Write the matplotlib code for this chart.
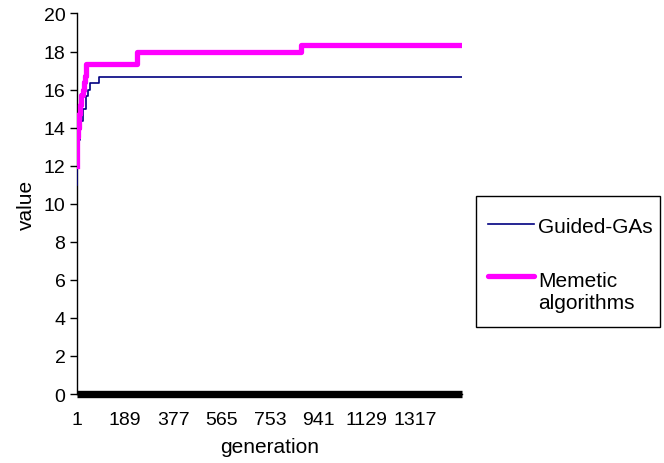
import numpy as np
import matplotlib.pyplot as plt
from matplotlib.patches import Rectangle
from matplotlib.lines import Line2D

plt.rcParams['font.family'] = ['Liberation Sans', 'DejaVu Sans']

# change points (generation, value)
guided_gen = [1, 4, 8, 14, 26, 36, 46, 52, 87, 1500]
guided_val = [11.0, 12.33, 13.33, 14.33, 15.0, 15.67, 16.0, 16.33, 16.67, 16.67]

memetic_gen = [1, 2, 4, 6, 10, 14, 20, 26, 30, 35, 39, 238, 873, 1500]
memetic_val = [12.0, 12.7, 13.5, 14.0, 14.7, 15.2, 15.7, 16.0, 16.4, 16.7, 17.33, 18.0, 18.33, 18.33]

zero_gen = [1, 1500]
zero_val = [0, 0]

xticks = [1, 189, 377, 565, 753, 941, 1129, 1317]
yticks = np.arange(0, 21, 2)

W, H = 664, 464
fig = plt.figure(figsize=(W / 100, H / 100), dpi=100)
ax = fig.add_axes([76.5 / W, 1 - 395 / H, (462 - 76.5) / W, (395 - 14.5) / H])

ax.plot(zero_gen, zero_val, color='black', lw=5.3, solid_capstyle='butt', zorder=2, clip_on=False)
ax.plot(guided_gen, guided_val, color='#000080', lw=1.2, drawstyle='steps-post', zorder=3)
ax.plot(memetic_gen, memetic_val, color='#FF00FF', lw=3.8, drawstyle='steps-post', zorder=4)

ax.set_xlim(1, 1500)
ax.set_ylim(0, 20)
ax.set_xticks(xticks)
ax.set_xticklabels([str(t) for t in xticks])
ax.set_yticks(yticks)

for s in ['top', 'right']:
    ax.spines[s].set_visible(False)
ax.spines['left'].set_linewidth(1.0)
ax.spines['bottom'].set_linewidth(1.0)
ax.tick_params(axis='y', direction='out', length=5, width=1, labelsize=14, pad=3)
ax.tick_params(axis='x', length=0, labelsize=14, pad=12)

ax.set_xlabel('generation', fontsize=15)
ax.set_ylabel('value', fontsize=15)
ax.xaxis.set_label_coords(0.5, -0.113)
ax.yaxis.set_label_coords(-0.105, 0.5)

# legend box, drawn by hand so the handle sits on the first line of the label
def fx(px):
    return px / W

def fy(py):
    return 1 - py / H

fig.patches.append(Rectangle((fx(476), fy(328)), fx(660) - fx(476), fy(197) - fy(328),
                             transform=fig.transFigure, fill=False, edgecolor='black', lw=1.0))
fig.lines.append(Line2D([fx(488), fx(534)], [fy(225), fy(225)], transform=fig.transFigure,
                        color='#000080', lw=1.2))
fig.lines.append(Line2D([fx(488), fx(534)], [fy(277), fy(277)], transform=fig.transFigure,
                        color='#FF00FF', lw=3.8, solid_capstyle='round'))
fig.text(fx(538), fy(233), 'Guided-GAs', fontsize=15, va='baseline')
fig.text(fx(538), fy(287), 'Memetic', fontsize=15, va='baseline')
fig.text(fx(538), fy(309), 'algorithms', fontsize=15, va='baseline')

fig.savefig('out.png', dpi=100)
